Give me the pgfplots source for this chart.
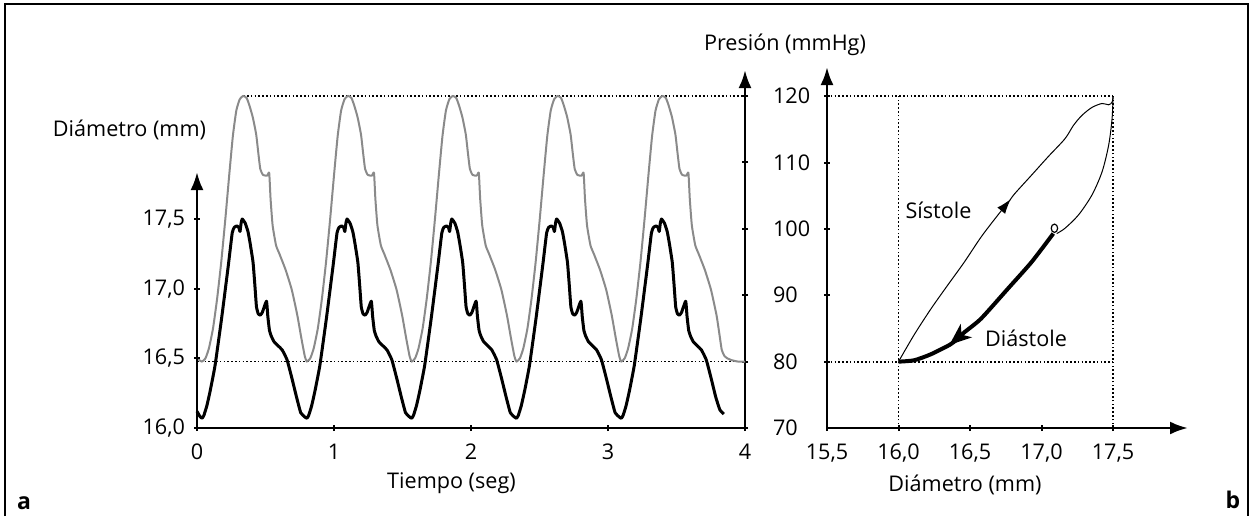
\documentclass[border=0pt]{standalone}
\usepackage{pgfplots}
\pgfplotsset{compat=1.18}
\usetikzlibrary{arrows.meta}
\usepackage{fontspec}
\setmainfont{Open Sans}
\definecolor{pgray}{HTML}{8A8A8A}
\newcommand{\lblfont}{\fontsize{10.8}{12}\selectfont}
\pgfplotsset{
  base/.style={
    scale only axis, enlargelimits=false, clip=false,
    tick align=inside, major tick length=3pt,
    every tick/.style={black, line width=1pt},
    tick label style={font=\lblfont},
    /pgf/number format/assume math mode=true,
    axis line style={line width=1.4pt},
  },
}
\tikzset{dotline/.style={line width=0.9pt, dash pattern=on 0.8pt off 1.1pt}}
\begin{document}
\begin{tikzpicture}
\useasboundingbox (0pt,0pt) rectangle (629pt,258pt);
\draw[line width=0.7pt] (2.5pt,0pt) -- (2.5pt,256pt) -- (624pt,256pt) -- (624pt,0pt);

% ---------- left panel: pressure (right axis) ----------
\begin{axis}[base, at={(98.5pt,44pt)}, anchor=south west, width=274pt, height=179pt,
  xmin=0, xmax=4, ymin=70, ymax=123.9,
  axis x line=none, axis y line=right, xtick=\empty,
  y axis line style={-{Latex[length=9pt,width=6.5pt]}},
  ytick={70,80,90,100,110,120}, yticklabels={70,80,90,100,110,120},
  yticklabel style={anchor=west, xshift=9pt},
]
\draw[dotline] (axis cs:0.337,120) -- (axis cs:4,120);
\draw[dotline] (axis cs:0,80) -- (axis cs:4,80);
\addplot[pgray, line width=1pt, smooth, tension=0.3, line join=round] coordinates {
(0,80.6)(0.018,80.2)
(0.037,80.0)(0.062,80.5)(0.087,82.0)(0.117,85.0)(0.147,89.5)(0.177,95.0)(0.207,101.5)(0.237,108.5)(0.262,114.0)(0.287,117.8)(0.312,119.5)(0.337,120.0)(0.362,119.7)(0.382,118.6)(0.407,116.8)(0.432,114.2)(0.447,111.5)(0.462,109.0)(0.482,108.1)(0.512,108.0)(0.527,108.4)(0.537,104.5)(0.552,100.5)(0.577,97.5)(0.602,96.2)(0.647,93.8)(0.692,90.8)(0.732,87.0)(0.762,83.5)(0.787,80.8)
(0.802,80.0)(0.827,80.5)(0.852,82.0)(0.882,85.0)(0.912,89.5)(0.942,95.0)(0.972,101.5)(1.002,108.5)(1.027,114.0)(1.052,117.8)(1.077,119.5)(1.102,120.0)(1.127,119.7)(1.147,118.6)(1.172,116.8)(1.197,114.2)(1.212,111.5)(1.227,109.0)(1.247,108.1)(1.277,108.0)(1.292,108.4)(1.302,104.5)(1.317,100.5)(1.342,97.5)(1.367,96.2)(1.412,93.8)(1.457,90.8)(1.497,87.0)(1.527,83.5)(1.552,80.8)
(1.567,80.0)(1.592,80.5)(1.617,82.0)(1.647,85.0)(1.677,89.5)(1.707,95.0)(1.737,101.5)(1.767,108.5)(1.792,114.0)(1.817,117.8)(1.842,119.5)(1.867,120.0)(1.892,119.7)(1.912,118.6)(1.937,116.8)(1.962,114.2)(1.977,111.5)(1.992,109.0)(2.012,108.1)(2.042,108.0)(2.057,108.4)(2.067,104.5)(2.082,100.5)(2.107,97.5)(2.132,96.2)(2.177,93.8)(2.222,90.8)(2.262,87.0)(2.292,83.5)(2.317,80.8)
(2.332,80.0)(2.357,80.5)(2.382,82.0)(2.412,85.0)(2.442,89.5)(2.472,95.0)(2.502,101.5)(2.532,108.5)(2.557,114.0)(2.582,117.8)(2.607,119.5)(2.632,120.0)(2.657,119.7)(2.677,118.6)(2.702,116.8)(2.727,114.2)(2.742,111.5)(2.757,109.0)(2.777,108.1)(2.807,108.0)(2.822,108.4)(2.832,104.5)(2.847,100.5)(2.872,97.5)(2.897,96.2)(2.942,93.8)(2.987,90.8)(3.027,87.0)(3.057,83.5)(3.082,80.8)
(3.097,80.0)(3.122,80.5)(3.147,82.0)(3.177,85.0)(3.207,89.5)(3.237,95.0)(3.267,101.5)(3.297,108.5)(3.322,114.0)(3.347,117.8)(3.372,119.5)(3.397,120.0)(3.422,119.7)(3.442,118.6)(3.467,116.8)(3.492,114.2)(3.507,111.5)(3.522,109.0)(3.542,108.1)(3.572,108.0)(3.587,108.4)(3.597,104.5)(3.612,100.5)(3.637,97.5)(3.662,96.2)(3.707,93.8)(3.752,90.8)(3.792,87.0)(3.812,84.3)(3.830,81.8)(3.848,80.9)(3.870,80.5)(3.905,80.2)(3.950,80.0)(4.000,80.0)
};
\end{axis}

% ---------- left panel: diameter (left axis) ----------
\begin{axis}[base, at={(98.5pt,44pt)}, anchor=south west, width=274pt, height=128pt,
  xmin=0, xmax=4, ymin=16, ymax=17.837,
  axis x line=bottom, axis y line=left,
  x axis line style={-}, y axis line style={-{Latex[length=9pt,width=6.5pt]}},
  xtick={0,1,2,3,4}, xticklabels={0,1,2,3,4},
  ytick={16,16.5,17,17.5}, yticklabels={{16,0},{16,5},{17,0},{17,5}},
  xticklabel style={yshift=-3pt}, yticklabel style={xshift=-1pt},
]
\addplot[black, line width=1.5pt, smooth, tension=0.25, line join=round] coordinates {
(0,16.12)(0.020,16.085)
(0.037,16.07)(0.050,16.09)(0.072,16.16)(0.097,16.27)(0.132,16.45)(0.180,16.79)(0.229,17.17)(0.257,17.40)(0.272,17.44)(0.292,17.45)(0.305,17.44)(0.314,17.41)(0.322,17.47)(0.330,17.50)(0.352,17.47)(0.372,17.41)(0.387,17.33)(0.409,17.19)(0.422,17.03)(0.434,16.87)(0.447,16.82)(0.462,16.81)(0.477,16.83)(0.507,16.91)(0.517,16.80)(0.529,16.70)(0.542,16.66)(0.562,16.62)(0.592,16.59)(0.622,16.56)(0.657,16.49)(0.692,16.36)(0.727,16.22)(0.757,16.11)(0.786,16.08)
(0.802,16.07)(0.815,16.09)(0.837,16.16)(0.862,16.27)(0.897,16.45)(0.945,16.79)(0.994,17.17)(1.022,17.40)(1.037,17.44)(1.057,17.45)(1.070,17.44)(1.079,17.41)(1.087,17.47)(1.095,17.50)(1.117,17.47)(1.137,17.41)(1.152,17.33)(1.174,17.19)(1.187,17.03)(1.199,16.87)(1.212,16.82)(1.227,16.81)(1.242,16.83)(1.272,16.91)(1.282,16.80)(1.294,16.70)(1.307,16.66)(1.327,16.62)(1.357,16.59)(1.387,16.56)(1.422,16.49)(1.457,16.36)(1.492,16.22)(1.522,16.11)(1.551,16.08)
(1.567,16.07)(1.580,16.09)(1.602,16.16)(1.627,16.27)(1.662,16.45)(1.710,16.79)(1.759,17.17)(1.787,17.40)(1.802,17.44)(1.822,17.45)(1.835,17.44)(1.844,17.41)(1.852,17.47)(1.860,17.50)(1.882,17.47)(1.902,17.41)(1.917,17.33)(1.939,17.19)(1.952,17.03)(1.964,16.87)(1.977,16.82)(1.992,16.81)(2.007,16.83)(2.037,16.91)(2.047,16.80)(2.059,16.70)(2.072,16.66)(2.092,16.62)(2.122,16.59)(2.152,16.56)(2.187,16.49)(2.222,16.36)(2.257,16.22)(2.287,16.11)(2.316,16.08)
(2.332,16.07)(2.345,16.09)(2.367,16.16)(2.392,16.27)(2.427,16.45)(2.475,16.79)(2.524,17.17)(2.552,17.40)(2.567,17.44)(2.587,17.45)(2.600,17.44)(2.609,17.41)(2.617,17.47)(2.625,17.50)(2.647,17.47)(2.667,17.41)(2.682,17.33)(2.704,17.19)(2.717,17.03)(2.729,16.87)(2.742,16.82)(2.757,16.81)(2.772,16.83)(2.802,16.91)(2.812,16.80)(2.824,16.70)(2.837,16.66)(2.857,16.62)(2.887,16.59)(2.917,16.56)(2.952,16.49)(2.987,16.36)(3.022,16.22)(3.052,16.11)(3.081,16.08)
(3.097,16.07)(3.110,16.09)(3.132,16.16)(3.157,16.27)(3.192,16.45)(3.240,16.79)(3.289,17.17)(3.317,17.40)(3.332,17.44)(3.352,17.45)(3.365,17.44)(3.374,17.41)(3.382,17.47)(3.390,17.50)(3.412,17.47)(3.432,17.41)(3.447,17.33)(3.469,17.19)(3.482,17.03)(3.494,16.87)(3.507,16.82)(3.522,16.81)(3.537,16.83)(3.567,16.91)(3.577,16.80)(3.589,16.70)(3.602,16.66)(3.622,16.62)(3.652,16.59)(3.682,16.56)(3.717,16.49)(3.752,16.36)(3.787,16.22)(3.817,16.13)(3.845,16.10)
};
\end{axis}

% ---------- right panel ----------
\begin{axis}[base, at={(413.5pt,44pt)}, anchor=south west, width=180.5pt, height=180.5pt,
  xmin=15.5, xmax=18.024, ymin=70, ymax=124.4,
  axis x line=bottom, axis y line=left,
  x axis line style={-{Latex[length=9pt,width=6.5pt]}}, y axis line style={-{Latex[length=9pt,width=6.5pt]}},
  xtick={15.5,16,16.5,17,17.5}, xticklabels={{15,5},{16,0},{16,5},{17,0},{17,5}},
  ytick={80,90,100,110,120}, yticklabels={},
  xticklabel style={yshift=-3pt},
]
\draw[dotline] (axis cs:15.5,120) -- (axis cs:17.5,120);
\draw[dotline] (axis cs:15.5,80) -- (axis cs:17.5,80);
\draw[dotline] (axis cs:16,70) -- (axis cs:16,120);
\draw[dotline] (axis cs:17.5,70) -- (axis cs:17.5,120);
% systole (thin)
\addplot[black, line width=0.5pt, smooth, tension=0.5, -{Latex[length=7.5pt,width=5pt]}] coordinates {
(16.0,80)(16.108,84.0)(16.225,87.9)(16.343,91.5)(16.46,95.0)(16.578,98.8)(16.695,102.1)(16.785,104.5)
};
\addplot[black, line width=0.5pt, smooth, tension=0.5] coordinates {
(16.775,104.2)(16.812,105.3)(16.93,108.1)(17.047,110.9)(17.164,113.6)(17.223,115.6)(17.282,117.1)(17.352,118.3)(17.423,118.9)(17.469,118.7)(17.493,119.1)(17.5,120)
};
% late systole / early diastole (thin)
\addplot[black, line width=0.5pt, smooth, tension=0.5] coordinates {
(17.5,120)(17.493,116.6)(17.469,112.6)(17.423,108.6)(17.352,105.1)(17.258,102.1)(17.164,100.1)(17.106,99.3)
};
\addplot[black, only marks, mark=o, mark size=1.6pt, mark options={line width=0.6pt, yscale=1.3}] coordinates {(17.09,100.1)};
% diastole (thick)
\addplot[black, line width=2pt, smooth, tension=0.4, -{Stealth[length=11pt,width=8.5pt,inset=3pt]}] coordinates {
(17.082,99.3)(16.93,95.0)(16.765,91.0)(16.578,86.5)(16.465,84.5)(16.355,82.5)
};
\addplot[black, line width=2pt, smooth, tension=0.4] coordinates {
(16.40,83.2)(16.355,82.5)(16.225,81.1)(16.108,80.2)(16.0,80.0)
};
\end{axis}

\begin{scope}[every node/.style={font=\lblfont, inner sep=0pt}]
\node at (64.75pt,193pt) {Diámetro (mm)};
\node at (392.5pt,235.5pt) {Presión (mmHg)};
\node at (225.75pt,16.5pt) {Tiempo (seg)};
\node at (482.5pt,15.5pt) {Diámetro (mm)};
\node at (469.25pt,153pt) {Sístole};
\node at (513pt,89pt) {Diástole};
\node[font=\fontsize{11.5}{12}\selectfont\bfseries] at (12pt,6.5pt) {a};
\node[font=\fontsize{11.5}{12}\selectfont\bfseries] at (616.5pt,8pt) {b};
\end{scope}
\end{tikzpicture}
\end{document}
